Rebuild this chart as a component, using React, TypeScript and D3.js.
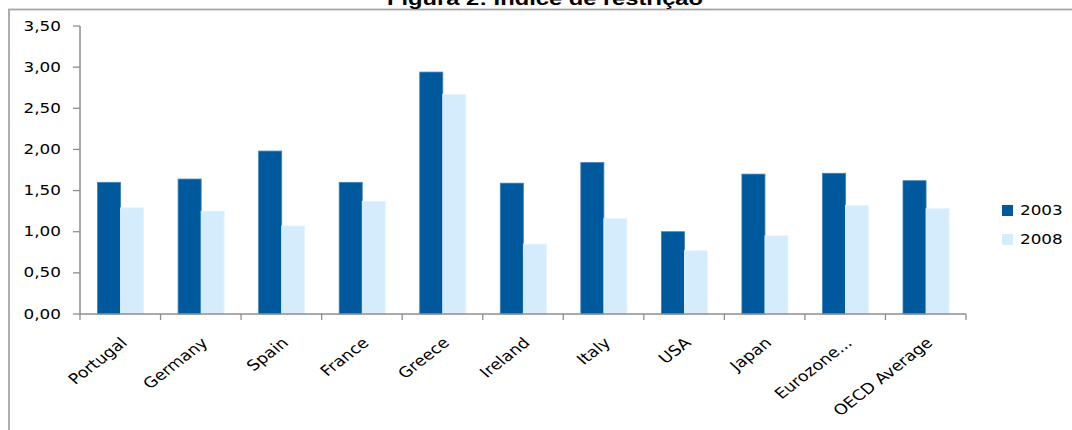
import React from "react";
import * as d3 from "d3";

const categories = ["Portugal", "Germany", "Spain", "France", "Greece", "Ireland", "Italy", "USA", "Japan", "Eurozone...", "OECD Average"];
const series2003 = [1.6, 1.64, 1.98, 1.6, 2.94, 1.59, 1.84, 1.0, 1.7, 1.71, 1.62];
const series2008 = [1.29, 1.25, 1.07, 1.37, 2.67, 0.85, 1.16, 0.77, 0.95, 1.32, 1.28];
const seriesNames = ["2003", "2008"];
const yTicks = [0, 0.5, 1, 1.5, 2, 2.5, 3, 3.5];
const title = "Figura 2: Índice de restrição";

const colors = ["#00589D", "#D4ECFC"];
const strokes = ["#3F7FB8", "#E6F4FE"];
const FONT = "'DejaVu Sans', Verdana, sans-serif";
const SX = 1.2;

const fmt = (v: number) => v.toFixed(2).replace(".", ",");

export default function App() {
  const W = 1072, H = 430;
  const left = 80, right = 966, top = 26, bottom = 314;
  const y = d3.scaleLinear().domain([0, 3.5]).range([bottom, top]);
  const x0 = d3.scaleBand<string>().domain(categories).range([left, right]).padding(0);
  const bw = x0.bandwidth();
  const x1 = d3.scaleBand<string>().domain(seriesNames).range([bw * 0.218, bw * 0.79]).padding(0);
  const data = [series2003, series2008];
  const boundaries = d3.range(categories.length + 1).map((i) => left + i * bw);

  return (
    <svg width={W} height={H} style={{ position: "absolute", left: 0, top: 0, background: "#fff" }}>
      <rect x={9} y={9.5} width={1080} height={440} fill="none" stroke="#A6A6A6" strokeWidth={1.8} />
      <text x={387} y={4.5} textLength={316} lengthAdjust="spacingAndGlyphs" fontFamily="'Liberation Sans', Arial, sans-serif" fontWeight="bold" fontSize={19} fill="#000">
        {title}
      </text>
      {/* bars */}
      {data.map((vals, si) =>
        vals.map((v, ci) => (
          <rect
            key={`${si}-${ci}`}
            x={(x0(categories[ci]) as number) + (x1(seriesNames[si]) as number)}
            y={y(v)}
            width={x1.bandwidth()}
            height={bottom - y(v)}
            fill={colors[si]}
            stroke={strokes[si]}
            strokeWidth={0.8}
          />
        ))
      )}
      {/* y axis */}
      <line x1={left} x2={left} y1={top} y2={bottom} stroke="#8E8E8E" strokeWidth={1.5} />
      {yTicks.map((t) => (
        <g key={t}>
          <line x1={left - 7} x2={left} y1={y(t)} y2={y(t)} stroke="#8E8E8E" strokeWidth={1.3} />
          <text transform={`translate(${61},${y(t)}) scale(${SX},1)`} textAnchor="end" dominantBaseline="central" fontFamily={FONT} fontSize={14} fill="#000">
            {fmt(t)}
          </text>
        </g>
      ))}
      {/* x axis */}
      <line x1={left} x2={right} y1={bottom} y2={bottom} stroke="#8E8E8E" strokeWidth={1.5} />
      {boundaries.map((b, i) => (
        <line key={i} x1={b} x2={b} y1={bottom} y2={bottom + 6} stroke="#8E8E8E" strokeWidth={1.3} />
      ))}
      {categories.map((c) => {
        const cx = (x0(c) as number) + bw / 2;
        return (
          <text key={c} transform={`translate(${cx + 8},${344}) scale(${SX},1) rotate(-43)`} textAnchor="end" fontFamily={FONT} fontSize={14.6} fill="#000">
            {c}
          </text>
        );
      })}
      {/* legend */}
      {seriesNames.map((s, i) => (
        <g key={s}>
          <rect x={1002} y={205 + i * 29} width={11} height={11} fill={colors[i]} />
          <text transform={`translate(${1020},${210.5 + i * 29}) scale(${SX},1)`} dominantBaseline="central" fontFamily={FONT} fontSize={14} fill="#000">
            {s}
          </text>
        </g>
      ))}
    </svg>
  );
}
